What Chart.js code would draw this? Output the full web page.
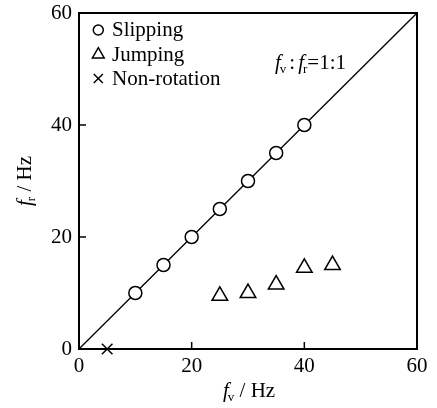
<!DOCTYPE html>
<html>
<head>
<meta charset="utf-8">
<script src="https://cdn.jsdelivr.net/npm/chart.js@4.4.0/dist/chart.umd.min.js"></script>
<style>
  html, body { margin: 0; padding: 0; background: #fff; }
  #wrap { width: 437px; height: 408px; }
</style>
</head>
<body>
<div id="wrap"><canvas id="myChart" width="437" height="408"></canvas></div>
<script>
// data (Hz)
var slipFv = [10, 15, 20, 25, 30, 35, 40];
var slipFr = [10, 15, 20, 25, 30, 35, 40];
var jumpFv = [25, 30, 35, 40, 45];
var jumpFr = [9.5, 10, 11.5, 14.5, 15];
var nonRotFv = [5];
var nonRotFr = [0];
var ratioLineFv = [0, 60];
var ratioLineFr = [0, 60];
var tickValues = [0, 20, 40, 60];

var FONT = "'Liberation Serif', 'DejaVu Serif', serif";
var FS = 21;

function pts(xs, ys) {
  return xs.map(function (x, i) { return { x: x, y: ys[i] }; });
}

// f with a subscript, drawn left to right, returns end x
function fSub(ctx, x, y, sub, size) {
  ctx.font = "italic " + size + "px " + FONT;
  ctx.fillText("f", x, y);
  x += ctx.measureText("f").width;
  ctx.font = Math.round(size * 0.6) + "px " + FONT;
  ctx.fillText(sub, x - 1, y + 4);
  return x - 1 + ctx.measureText(sub).width;
}

var framePlugin = {
  id: "frame",
  afterDraw: function (chart) {
    var ctx = chart.ctx;
    var a = chart.chartArea;
    var xs = chart.scales.x, ys = chart.scales.y;
    ctx.save();
    ctx.strokeStyle = "#000";
    ctx.fillStyle = "#000";

    // box
    ctx.lineWidth = 2;
    ctx.strokeRect(a.left, a.top, a.right - a.left, a.bottom - a.top);

    // inward ticks
    ctx.lineWidth = 1.5;
    ctx.beginPath();
    tickValues.slice(1, -1).forEach(function (v) {
      var px = xs.getPixelForValue(v);
      ctx.moveTo(px, a.bottom);
      ctx.lineTo(px, a.bottom - 7);
      var py = ys.getPixelForValue(v);
      ctx.moveTo(a.left, py);
      ctx.lineTo(a.left + 7, py);
    });
    ctx.stroke();

    // legend
    var lx = 98.3;
    var rows = [
      { y: 30, base: 36, label: "Slipping", style: "circle", rad: 5 },
      { y: 54.5, base: 61, label: "Jumping", style: "triangle", rad: 6.8 },
      { y: 78.5, base: 85, label: "Non-rotation", style: "crossRot", rad: 6.4 }
    ];
    rows.forEach(function (r) {
      ctx.strokeStyle = "#000";
      ctx.fillStyle = "#fff";
      ctx.lineWidth = 1.5;
      if (r.style === "circle") {
        ctx.beginPath(); ctx.arc(lx, r.y, r.rad, 0, Math.PI * 2); ctx.fill(); ctx.stroke();
      } else {
        Chart.helpers.drawPoint(ctx, { pointStyle: r.style, radius: r.rad, borderWidth: 1.5 }, lx, r.y);
      }
      ctx.fillStyle = "#000";
      ctx.font = FS + "px " + FONT;
      ctx.textAlign = "left";
      ctx.textBaseline = "alphabetic";
      ctx.fillText(r.label, 112, r.base);
    });

    // ratio annotation
    ctx.fillStyle = "#000";
    ctx.textBaseline = "alphabetic";
    var by = 69;
    var x = fSub(ctx, 275, by, "v", FS);
    ctx.font = FS + "px " + FONT;
    ctx.fillText(":", x + 3, by);
    x += 3 + ctx.measureText(":").width + 3;
    x = fSub(ctx, x, by, "r", FS);
    ctx.font = FS + "px " + FONT;
    ctx.fillText("=1:1", x, by);

    // x axis title
    x = fSub(ctx, 223, 397, "v", FS);
    ctx.font = FS + "px " + FONT;
    ctx.fillText(" / Hz", x, 397);

    // y axis title (rotated)
    ctx.translate(31, 206);
    ctx.rotate(-Math.PI / 2);
    x = fSub(ctx, 0, 0, "r", FS);
    ctx.font = FS + "px " + FONT;
    ctx.fillText(" / Hz", x, 0);

    ctx.restore();
  }
};

var ctx = document.getElementById("myChart");
var myChart = new Chart(ctx, {
  type: "scatter",
  data: {
    datasets: [
      {
        label: "Slipping",
        data: pts(slipFv, slipFr),
        pointStyle: "circle",
        pointRadius: 6.5,
        pointBackgroundColor: "#fff",
        pointBorderColor: "#000",
        pointBorderWidth: 1.5,
        order: 1
      },
      {
        label: "Jumping",
        data: pts(jumpFv, jumpFr),
        pointStyle: "triangle",
        pointRadius: 9,
        pointBackgroundColor: "rgba(255,255,255,0)",
        pointBorderColor: "#000",
        pointBorderWidth: 1.5,
        order: 2
      },
      {
        label: "Non-rotation",
        data: pts(nonRotFv, nonRotFr),
        pointStyle: "crossRot",
        pointRadius: 7.5,
        pointBorderColor: "#000",
        pointBorderWidth: 1.5,
        clip: false,
        order: 3
      },
      {
        type: "line",
        label: "fv:fr=1:1",
        data: pts(ratioLineFv, ratioLineFr),
        borderColor: "#000",
        borderWidth: 1.3,
        pointRadius: 0,
        order: 10
      }
    ]
  },
  options: {
    responsive: false,
    animation: false,
    devicePixelRatio: 1,
    layout: { padding: { left: 0, top: 13, right: 20, bottom: 0 } },
    plugins: {
      legend: { display: false },
      tooltip: { enabled: false }
    },
    scales: {
      x: {
        type: "linear",
        min: 0, max: 60,
        afterFit: function (s) { s.height = 59; s.paddingLeft = 0; s.paddingRight = 0; },
        afterBuildTicks: function (s) { s.ticks = tickValues.map(function (v) { return { value: v }; }); },
        grid: { display: false, drawTicks: false },
        border: { display: false },
        ticks: { color: "#000", padding: 5, maxRotation: 0, font: { family: FONT, size: FS } }
      },
      y: {
        type: "linear",
        min: 0, max: 60,
        afterFit: function (s) { s.width = 79; s.paddingTop = 0; s.paddingBottom = 0; },
        afterBuildTicks: function (s) { s.ticks = tickValues.map(function (v) { return { value: v }; }); },
        grid: { display: false, drawTicks: false },
        border: { display: false },
        ticks: { color: "#000", padding: 7, font: { family: FONT, size: FS } }
      }
    }
  },
  plugins: [framePlugin]
});
</script>
</body>
</html>
